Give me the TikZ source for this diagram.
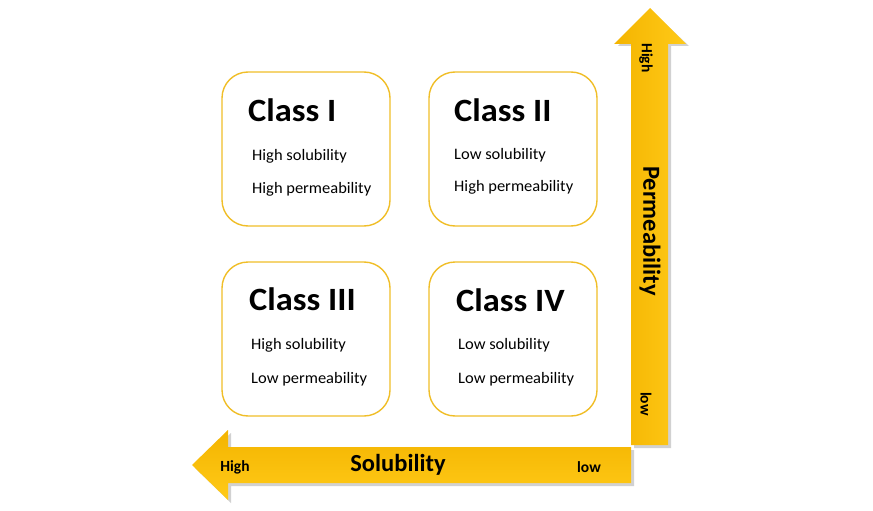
\documentclass[tikz,border=0pt]{standalone}
\usepackage{fontspec}
\setmainfont{Carlito}
\definecolor{gold}{RGB}{250,190,0}
\definecolor{goldtop}{RGB}{244,180,0}
\definecolor{goldbot}{RGB}{255,202,24}
\definecolor{boxline}{RGB}{240,190,40}
\tikzset{
  classbox/.style={draw=boxline, line width=1.4pt, rounded corners=26pt, fill=white},
  classtitle/.style={anchor=west, inner sep=0pt, xscale=1.06, font=\fontsize{32.5}{34}\selectfont\bfseries},
  classline/.style={anchor=west, inner sep=0pt, xscale=1.03, font=\fontsize{16}{18}\selectfont},
  axislabel/.style={inner sep=0pt, font=\fontsize{24.5}{26}\selectfont\bfseries},
  axisend/.style={inner sep=0pt, font=\fontsize{15.5}{17}\selectfont\bfseries},
  arrowshadow/.style={fill=black, opacity=0.18}
}
\begin{document}
\begin{tikzpicture}[x=1pt,y=-1pt]
\useasboundingbox (0,0) rectangle (873,511);
% shadows
\fill[arrowshadow] (652,11) -- (689,46) -- (671,46) -- (671,448) -- (634,448) -- (634,46) -- (618,46) -- cycle;
\fill[arrowshadow] (195,468) -- (231,433) -- (231,450) -- (634,450) -- (634,486) -- (231,486) -- (231,503) -- cycle;
% vertical arrow (permeability)
\shade[left color=goldtop, right color=goldbot] (650,8) -- (686,44) -- (668,44) -- (668,445) -- (631,445) -- (631,44) -- (614,44) -- cycle;
% horizontal arrow (solubility)
\shade[top color=goldtop, bottom color=goldbot] (192,465) -- (228,430) -- (228,447) -- (631,447) -- (631,483) -- (228,483) -- (228,500) -- cycle;
% boxes
\draw[classbox] (222,72) rectangle (390,226);
\draw[classbox] (429,72) rectangle (597,226);
\draw[classbox] (222,262) rectangle (390,416);
\draw[classbox] (429,262) rectangle (597,416);
% texts
\node[classtitle] (t1) at (248,110) {Class I};
\node[classline] (t1a) at (252,156) {High solubility};
\node[classline] (t1b) at (252,189) {High permeability};
\node[classtitle] (t2) at (454,110) {Class II};
\node[classline] (t2a) at (454,155) {Low solubility};
\node[classline] (t2b) at (454,187) {High permeability};
\node[classtitle] (t3) at (249,299) {Class III};
\node[classline] (t3a) at (251,345) {High solubility};
\node[classline] (t3b) at (251,379) {Low permeability};
\node[classtitle] (t4) at (456,300) {Class IV};
\node[classline] (t4a) at (458,345) {Low solubility};
\node[classline] (t4b) at (458,379) {Low permeability};
% axis labels
\node[axislabel] (sol) at (398,465) {Solubility};
\node[axisend] (solhi) at (235,467) {High};
\node[axisend] (sollo) at (589,467) {low};
\node[axislabel, rotate=-90] (perm) at (650,231) {Permeability};
\node[axisend, rotate=-90] (permhi) at (646,58) {High};
\node[axisend, rotate=-90] (permlo) at (646,404) {low};
\end{tikzpicture}
\end{document}
